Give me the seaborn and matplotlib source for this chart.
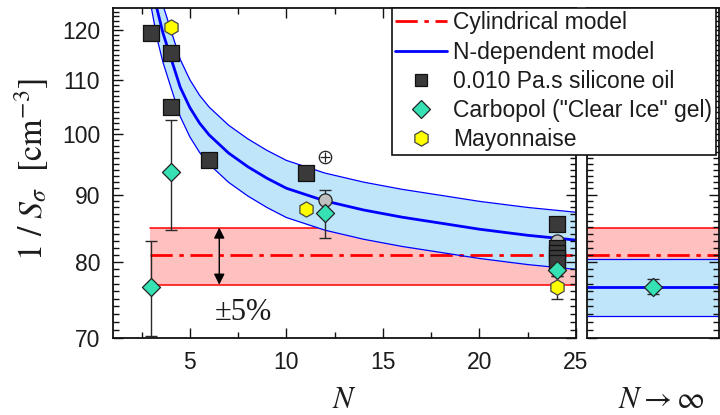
import matplotlib
matplotlib.use("Agg")
import numpy as np
import pandas as pd
import matplotlib.pyplot as plt
from matplotlib.lines import Line2D
from matplotlib.ticker import FixedLocator, FixedFormatter, NullFormatter
import seaborn as sns

# ---- model curves -------------------------------------------------------
# N-dependent model (centre line)
model_N = [3.0, 3.3, 3.6, 4.0, 4.5, 5.0, 5.5, 6.0, 7.0, 8.0, 9.0, 10.0,
           12.0, 14.0, 16.0, 18.0, 20.0, 22.5, 25.0]
model_y = [131.5, 124.5, 119.5, 114.5, 108.6, 104.8, 102.0, 99.9, 96.8, 94.5,
           92.6, 91.0, 89.0, 87.6, 86.5, 85.6, 84.7, 83.8, 83.1]
model_limit = 76.6          # N -> infinity value of the N-dependent model
cyl_value = 80.9            # cylindrical model
cyl_N = [2.95, 25.0]        # N range of the cylindrical band
tolerance = 0.05            # +/- 5 % bands

# ---- measurements -------------------------------------------------------
silicone_N = [3, 4, 4, 6, 11, 24, 24, 24, 24, 24]
silicone_y = [119.5, 115.4, 105.0, 95.7, 93.4, 85.5, 82.0, 81.2, 80.5, 79.8]
silicone_err = [0.6, 1.0, 0.0, 0.0, 0.0, 0.5, 0.6, 0.6, 0.6, 0.6]

carbopol_N = [3, 4, 12, 24]
carbopol_y = [76.6, 93.6, 87.1, 78.8]
carbopol_err = [6.3, 9.0, 3.7, 0.8]
carbopol_inf_y = [76.6]
carbopol_inf_err = [1.0]

mayo_N = [4, 11, 24]
mayo_y = [120.8, 87.7, 76.5]
mayo_err = [0.0, 0.0, 1.5]

gray_N = [12, 24]
gray_y = [89.2, 83.0]
open_N = [12]
open_y = [96.1]

y_ticks = [70, 80, 90, 100, 110, 120]
y_minor = list(range(70, 125))
x_ticks = [5, 10, 15, 20, 25]
x_minor = [2.5, 7.5, 12.5, 17.5, 22.5]

legend_labels = ["Cylindrical model", "N-dependent model",
                 "0.010 Pa.s silicone oil", 'Carbopol ("Clear Ice" gel)',
                 "Mayonnaise"]

# ---- style --------------------------------------------------------------
sns.set_theme(style="ticks")
plt.rcParams["font.family"] = ["Liberation Sans", "DejaVu Sans"]
plt.rcParams["mathtext.fontset"] = "stix"
plt.rcParams["axes.axisbelow"] = False
TXT = "#1c1c1c"
INK = "#111111"

RED = "#FF0000"
RED_FILL = "#FFC0C0"
BLUE = "#0000FF"
BLUE_FILL = "#BEE5FA"
SQ_FACE = "#3A3A3A"
DIA_FACE = "#36E2B4"
HEX_FACE = "#FFFF00"
GRAY_FACE = "#C0C0C0"

W, H = 720, 415
fig = plt.figure(figsize=(7.2, 4.15), dpi=100)
L0, R0, T0, B0 = 112.7, 576.0, 8.0, 338.0
ax = fig.add_axes([L0 / W, 1 - B0 / H, (R0 - L0) / W, (B0 - T0) / H])
L1, R1 = 587.3, 718.5
ax2 = fig.add_axes([L1 / W, 1 - B0 / H, (R1 - L1) / W, (B0 - T0) / H])

model = pd.DataFrame({"N": model_N, "y": model_y})
model["hi"] = model["y"] * (1 + tolerance)
model["lo"] = model["y"] * (1 - tolerance)

for a in (ax, ax2):
    a.set_yscale("log")
    a.set_ylim(70, 124.8)

ax.set_xlim(1, 25)
ax2.set_xlim(0, 1)

# cylindrical band
ax.fill_between(cyl_N, cyl_value * (1 - tolerance), cyl_value * (1 + tolerance),
                color=RED_FILL, lw=0, zorder=1)
ax2.fill_between([0, 1], cyl_value * (1 - tolerance), cyl_value * (1 + tolerance),
                 color=RED_FILL, lw=0, zorder=1)
for lim in (cyl_value * (1 - tolerance), cyl_value * (1 + tolerance)):
    ax.plot(cyl_N, [lim, lim], color=RED, lw=1.1, zorder=1.5)
    ax2.plot([0, 1], [lim, lim], color=RED, lw=1.1, zorder=1.5)

# N-dependent band
ax.fill_between(model["N"], model["lo"], model["hi"], color=BLUE_FILL, lw=0, zorder=2)
ax2.fill_between([0, 1], model_limit * (1 - tolerance), model_limit * (1 + tolerance),
                 color=BLUE_FILL, lw=0, zorder=2)

dashdot = (0, (8, 2.4, 1.6, 2.4))
ax.plot(cyl_N, [cyl_value] * 2, color=RED, lw=2.0, ls=dashdot, zorder=3)
ax2.plot([0, 1], [cyl_value] * 2, color=RED, lw=2.0, ls=dashdot, zorder=3)

sns.lineplot(data=model, x="N", y="y", ax=ax, color=BLUE, lw=2.0, zorder=4,
             sort=False, estimator=None)
sns.lineplot(data=model, x="N", y="hi", ax=ax, color=BLUE, lw=0.9, zorder=4,
             sort=False, estimator=None)
sns.lineplot(data=model, x="N", y="lo", ax=ax, color=BLUE, lw=0.9, zorder=4,
             sort=False, estimator=None)
for v, lw in ((model_limit, 2.0), (model_limit * (1 + tolerance), 0.9),
              (model_limit * (1 - tolerance), 0.9)):
    ax2.plot([0, 1], [v, v], color=BLUE, lw=lw, zorder=4)

# error bars
eb = dict(fmt="none", ecolor="#2a2a2a", elinewidth=1.0, capsize=4, capthick=1.0, zorder=5)
ax.errorbar(silicone_N, silicone_y, yerr=silicone_err, **eb)
ax.errorbar(carbopol_N, carbopol_y, yerr=carbopol_err, **eb)
ax.errorbar(mayo_N, mayo_y, yerr=mayo_err, **eb)
ax2.errorbar([0.5], carbopol_inf_y, yerr=carbopol_inf_err, **eb)

# markers
sns.scatterplot(x=gray_N, y=gray_y, ax=ax, marker="o", s=90, color=GRAY_FACE,
                edgecolor="#222222", linewidth=0.9, zorder=6)
sns.scatterplot(x=open_N, y=open_y, ax=ax, marker="o", s=80, color="white",
                edgecolor="#222222", linewidth=0.9, zorder=6)
sns.scatterplot(x=open_N, y=open_y, ax=ax, marker="+", s=60, color="#222222",
                linewidth=0.9, zorder=6.5)
sns.scatterplot(x=silicone_N, y=silicone_y, ax=ax, marker="s", s=120, color=SQ_FACE,
                edgecolor=INK, linewidth=0.9, zorder=6)
sns.scatterplot(x=carbopol_N, y=carbopol_y, ax=ax, marker="D", s=85, color=DIA_FACE,
                edgecolor="#222222", linewidth=0.9, zorder=7)
sns.scatterplot(x=[0.5], y=carbopol_inf_y, ax=ax2, marker="D", s=85, color=DIA_FACE,
                edgecolor="#222222", linewidth=0.9, zorder=7)
sns.scatterplot(x=mayo_N, y=mayo_y, ax=ax, marker="h", s=120, color=HEX_FACE,
                edgecolor="#444444", linewidth=0.9, zorder=7)

# +/- 5 % annotation
ax.annotate("", xy=(6.52, cyl_value * (1 - tolerance)),
            xytext=(6.52, cyl_value * (1 + tolerance)),
            arrowprops=dict(arrowstyle="<|-|>", color="black", lw=1.0,
                            mutation_scale=16, shrinkA=0, shrinkB=0), zorder=8)
ax.text(7.75, 73.2, "±5%", family=["Liberation Serif", "DejaVu Serif"],
        fontsize=22, ha="center", va="center", color=TXT, zorder=8)

# axes, ticks
for a in (ax, ax2):
    a.set_axisbelow(False)
    a.yaxis.set_major_locator(FixedLocator(y_ticks))
    a.yaxis.set_minor_locator(FixedLocator(y_minor))
    a.yaxis.set_minor_formatter(NullFormatter())
    for s in a.spines.values():
        s.set_visible(True)
        s.set_linewidth(1.3)
        s.set_color(INK)
        s.set_zorder(12)
    a.xaxis.set_zorder(11)
    a.yaxis.set_zorder(11)
    a.set_xlabel("")
    a.set_ylabel("")

ax.yaxis.set_major_formatter(FixedFormatter([str(t) for t in y_ticks]))
ax.xaxis.set_major_locator(FixedLocator(x_ticks))
ax.xaxis.set_minor_locator(FixedLocator(x_minor))
ax.xaxis.set_minor_formatter(NullFormatter())
ax.tick_params(axis="both", which="both", direction="in", bottom=True, top=True,
               left=True, right=True, color=INK, width=1.0)
ax.tick_params(axis="both", which="major", length=7.5, labelsize=16.5,
               labelcolor=TXT, pad=9)
ax.tick_params(axis="both", which="minor", length=4)

ax2.tick_params(axis="x", which="both", bottom=False, top=False, labelbottom=False)
ax2.tick_params(axis="y", which="both", direction="in", left=True, right=True,
                labelleft=False, color=INK, width=1.0)
ax2.tick_params(axis="y", which="major", length=7.5)
ax2.tick_params(axis="y", which="minor", length=4)

ax.set_xlabel("$N$", fontsize=22, color=TXT)
ax.xaxis.set_label_coords(0.5, -(400 - B0) / (B0 - T0))
ax.xaxis.label.set_va("center")
ax2.set_xlabel(r"$N\rightarrow\infty$", fontsize=22, color=TXT)
ax2.xaxis.set_label_coords((661 - L1) / (R1 - L1), -(400 - B0) / (B0 - T0))
ax2.xaxis.label.set_va("center")
ax.set_ylabel(r"$1\ /\ S_{\sigma}\ \ [\mathrm{cm}^{-3}]$", fontsize=24.5, color=TXT)
ax.yaxis.set_label_coords(-(L0 - 32) / (R0 - L0), (B0 - 169) / (B0 - T0))
ax.yaxis.label.set_va("center")

# legend spanning both panels
handles = [
    Line2D([], [], color=RED, lw=2.0, ls=dashdot),
    Line2D([], [], color=BLUE, lw=2.0),
    Line2D([], [], ls="none", marker="s", ms=8.5, mfc=SQ_FACE, mec=INK, mew=0.9),
    Line2D([], [], ls="none", marker="D", ms=9.5, mfc=DIA_FACE, mec="#222222", mew=0.9),
    Line2D([], [], ls="none", marker="h", ms=11, mfc=HEX_FACE, mec="#444444", mew=0.9),
]
leg = fig.legend(handles, legend_labels, loc="upper left",
                 bbox_to_anchor=(392 / W, 1 - T0 / H), bbox_transform=fig.transFigure,
                 borderaxespad=0, fontsize=16.5, frameon=True, fancybox=False,
                 framealpha=1, edgecolor=INK, borderpad=0.15,
                 labelspacing=0.27, handlelength=2.25, handletextpad=0.28)
leg.get_frame().set_linewidth(1.2)
for t in leg.get_texts():
    t.set_color(TXT)

fig.savefig("out.png", dpi=100)
